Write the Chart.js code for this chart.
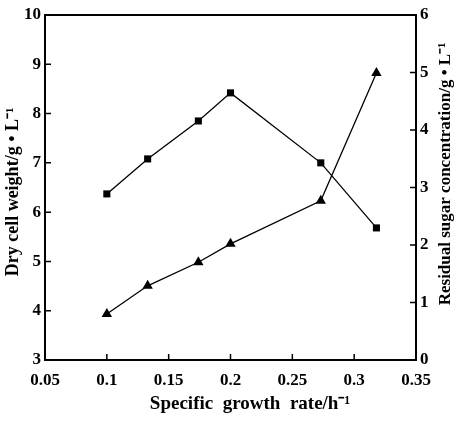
<!DOCTYPE html>
<html>
<head>
<meta charset="utf-8">
<script src="https://cdn.jsdelivr.net/npm/chart.js@4"></script>
<style>
  html, body { margin: 0; padding: 0; background: #fff; }
  #wrap { width: 457px; height: 426px; }
</style>
</head>
<body>
<div id="wrap"><canvas id="chart" width="457" height="426"></canvas></div>
<script>
// growth rate (h^-1)
const growthRate = [0.1, 0.133, 0.174, 0.2, 0.273, 0.318];
// dry cell weight (g/L), left axis
const dryCellWeight = [6.37, 7.08, 7.85, 8.42, 7.0, 5.68];
// residual sugar (g/L), right axis
const residualSugar = [0.8, 1.29, 1.7, 2.02, 2.77, 4.99];

const xTicks = [0.05, 0.1, 0.15, 0.2, 0.25, 0.3, 0.35];
const xTickLabels = ['0.05', '0.1', '0.15', '0.2', '0.25', '0.3', '0.35'];
const leftTicks = [3, 4, 5, 6, 7, 8, 9, 10];
const rightTicks = [0, 1, 2, 3, 4, 5, 6];

const FONT = 'Liberation Serif';

function pts(xs, ys) {
    return xs.map((x, i) => ({ x: x, y: ys[i] }));
}

// frame, inward ticks and axis titles
const framePlugin = {
    id: 'frame',
    afterDraw(chart) {
        const ctx = chart.ctx;
        const a = chart.chartArea;
        const sx = chart.scales.x, sl = chart.scales.y, sr = chart.scales.y2;
        ctx.save();
        ctx.strokeStyle = '#000';
        ctx.lineWidth = 2;
        ctx.strokeRect(a.left, a.top, a.right - a.left, a.bottom - a.top);

        ctx.lineWidth = 1.5;
        ctx.beginPath();
        xTicks.forEach(v => {
            const p = sx.getPixelForValue(v);
            ctx.moveTo(p, a.bottom);
            ctx.lineTo(p, a.bottom - 6);
        });
        leftTicks.forEach(v => {
            const p = sl.getPixelForValue(v);
            ctx.moveTo(a.left, p);
            ctx.lineTo(a.left + 6, p);
        });
        rightTicks.forEach(v => {
            const p = sr.getPixelForValue(v);
            ctx.moveTo(a.right, p);
            ctx.lineTo(a.right - 6, p);
        });
        ctx.stroke();

        ctx.fillStyle = '#000';
        ctx.textAlign = 'center';
        ctx.textBaseline = 'middle';
        ctx.font = 'bold 19px "' + FONT + '"';
        ctx.fillText('Specific  growth  rate/h\u207B\u00B9', 250, 404);

        ctx.save();
        ctx.translate(13, 192);
        ctx.rotate(-Math.PI / 2);
        ctx.font = 'bold 18px "' + FONT + '"';
        ctx.fillText('Dry cell weight/g \u2022 L\u207B\u00B9', 0, 0);
        ctx.restore();

        ctx.save();
        ctx.translate(446, 174);
        ctx.rotate(-Math.PI / 2);
        ctx.font = 'bold 17px "' + FONT + '"';
        ctx.fillText('Residual sugar concentration/g \u2022 L\u207B\u00B9', 0, 0);
        ctx.restore();
        ctx.restore();
    }
};

const tickFont = { family: FONT, size: 17, weight: 'bold' };

new Chart(document.getElementById('chart'), {
    type: 'scatter',
    data: {
        datasets: [
            {
                label: 'Dry cell weight',
                data: pts(growthRate, dryCellWeight),
                yAxisID: 'y',
                showLine: true,
                borderColor: '#000',
                backgroundColor: '#000',
                borderWidth: 1.3,
                pointStyle: 'rect',
                pointRadius: 5,
                pointBorderWidth: 0
            },
            {
                label: 'Residual sugar',
                data: pts(growthRate, residualSugar),
                yAxisID: 'y2',
                showLine: true,
                borderColor: '#000',
                backgroundColor: '#000',
                borderWidth: 1.3,
                pointStyle: 'triangle',
                pointRadius: 6,
                pointBorderWidth: 0
            }
        ]
    },
    options: {
        responsive: false,
        animation: false,
        layout: { padding: { top: 15, left: 0, right: 0, bottom: 0 } },
        plugins: {
            legend: { display: false },
            tooltip: { enabled: false }
        },
        scales: {
            x: {
                type: 'linear',
                min: 0.05,
                max: 0.35,
                afterBuildTicks: s => { s.ticks = xTicks.map(v => ({ value: v })); },
                afterFit: s => { s.height = 66; },
                grid: { display: false, drawTicks: false },
                border: { display: false },
                ticks: {
                    color: '#000',
                    font: tickFont,
                    padding: 10,
                    maxRotation: 0,
                    callback: (v, i) => xTickLabels[i]
                }
            },
            y: {
                type: 'linear',
                position: 'left',
                min: 3,
                max: 10,
                afterBuildTicks: s => { s.ticks = leftTicks.map(v => ({ value: v })); },
                afterFit: s => { s.width = 45; },
                grid: { display: false, drawTicks: false },
                border: { display: false },
                ticks: { color: '#000', font: tickFont, padding: 4 }
            },
            y2: {
                type: 'linear',
                position: 'right',
                min: 0,
                max: 6,
                afterBuildTicks: s => { s.ticks = rightTicks.map(v => ({ value: v })); },
                afterFit: s => { s.width = 41; },
                grid: { display: false, drawTicks: false },
                border: { display: false },
                ticks: { color: '#000', font: tickFont, padding: 4 }
            }
        }
    },
    plugins: [framePlugin]
});
</script>
</body>
</html>
